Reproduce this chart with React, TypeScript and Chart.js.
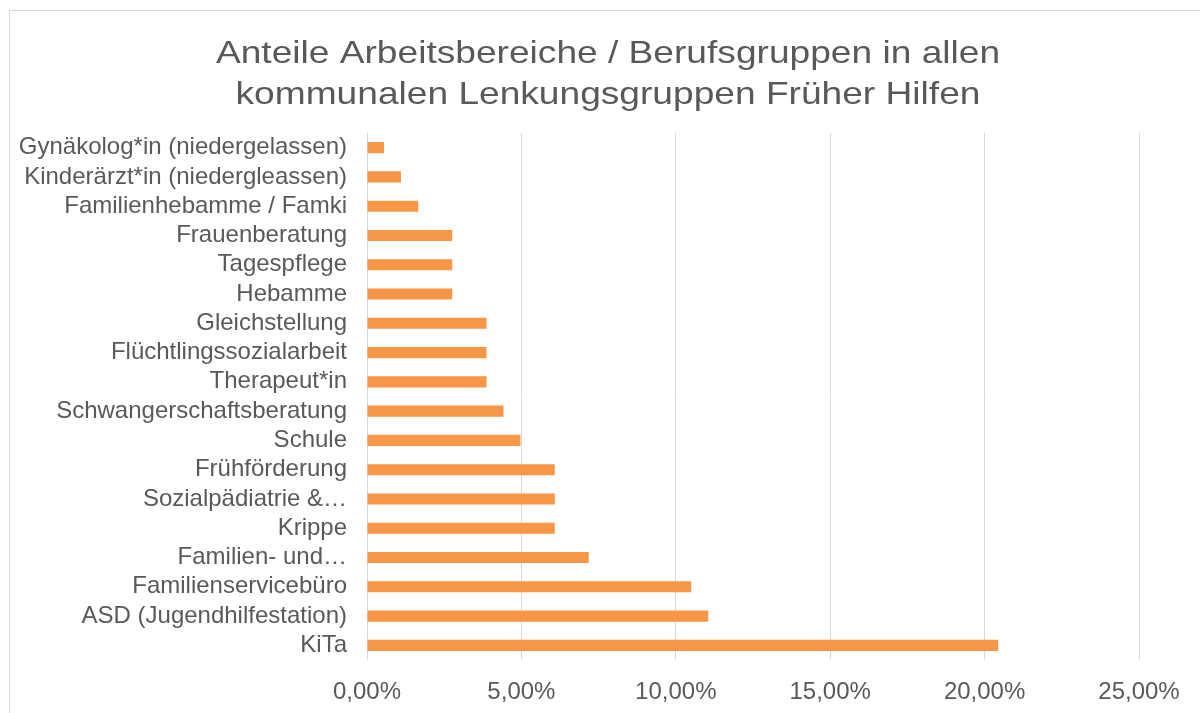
import React, { useEffect, useRef } from "react";
import { Chart, registerables } from "chart.js";

Chart.register(...registerables);

const categories = [
  "Gynäkolog*in (niedergelassen)",
  "Kinderärzt*in (niedergleassen)",
  "Familienhebamme / Famki",
  "Frauenberatung",
  "Tagespflege",
  "Hebamme",
  "Gleichstellung",
  "Flüchtlingssozialarbeit",
  "Therapeut*in",
  "Schwangerschaftsberatung",
  "Schule",
  "Frühförderung",
  "Sozialpädiatrie &…",
  "Krippe",
  "Familien- und…",
  "Familienservicebüro",
  "ASD (Jugendhilfestation)",
  "KiTa",
];

const shares = [
  0.55, 1.1, 1.66, 2.76, 2.76, 2.76, 3.87, 3.87, 3.87, 4.42, 4.97, 6.08, 6.08, 6.08, 7.18, 10.5, 11.05, 20.44,
];

const xTicks = [0, 5, 10, 15, 20, 25];

const titleLines = [
  "Anteile Arbeitsbereiche / Berufsgruppen in allen",
  "kommunalen Lenkungsgruppen Früher Hilfen",
];

const FONT = "'Liberation Sans', Arial, sans-serif";

const titlePlugin = {
  id: "stretchedTitle",
  afterDraw(chart: any) {
    const ctx = chart.ctx as CanvasRenderingContext2D;
    ctx.save();
    ctx.font = `32px ${FONT}`;
    ctx.fillStyle = "#595959";
    ctx.textAlign = "center";
    ctx.textBaseline = "alphabetic";
    const baselines = [52, 93];
    titleLines.forEach((line, i) => {
      ctx.save();
      ctx.translate(598, baselines[i]);
      ctx.scale(1.16, 1);
      ctx.fillText(line, 0, 0);
      ctx.restore();
    });
    ctx.restore();
  },
};

export default function App() {
  const ref = useRef<HTMLCanvasElement>(null);
  useEffect(() => {
    if (!ref.current) return;
    const chart = new Chart(ref.current, {
      type: "bar",
      data: {
        labels: categories,
        datasets: [
          {
            data: shares,
            backgroundColor: "#F79646",
            barPercentage: 0.38,
            categoryPercentage: 1,
          },
        ],
      },
      plugins: [titlePlugin],
      options: {
        indexAxis: "y",
        animation: false,
        responsive: false,
        maintainAspectRatio: false,
        layout: { padding: { left: 0, right: 61, top: 122, bottom: 0 } },
        plugins: {
          legend: { display: false },
          tooltip: { enabled: false },
          title: { display: false },
        },
        scales: {
          x: {
            min: 0,
            max: 25,
            afterBuildTicks: (scale: any) => {
              scale.ticks = xTicks.map((v) => ({ value: v }));
            },
            afterFit: (scale: any) => {
              scale.height = 53;
            },
            grid: { color: "#D9D9D9", lineWidth: 1, drawTicks: false },
            border: { display: false },
            ticks: {
              padding: 18,
              color: "#595959",
              maxRotation: 0,
              font: { family: FONT, size: 24 },
              callback: (v: any) => Number(v).toFixed(2).replace(".", ",") + "%",
            },
          },
          y: {
            afterFit: (scale: any) => {
              scale.width = 357;
            },
            grid: { display: false, drawTicks: false },
            border: { display: false },
            ticks: {
              padding: 20,
              color: "#595959",
              autoSkip: false,
              font: { family: FONT, size: 24 },
            },
          },
        },
      },
    });
    return () => chart.destroy();
  }, []);

  return (
    <div
      style={{
        position: "absolute",
        left: 9,
        top: 10,
        width: 1200,
        height: 720,
        borderLeft: "1px solid #D9D9D9",
        borderTop: "1px solid #D9D9D9",
        background: "#fff",
      }}
    >
      <canvas ref={ref} width={1190} height={702} style={{ display: "block" }} />
    </div>
  );
}
